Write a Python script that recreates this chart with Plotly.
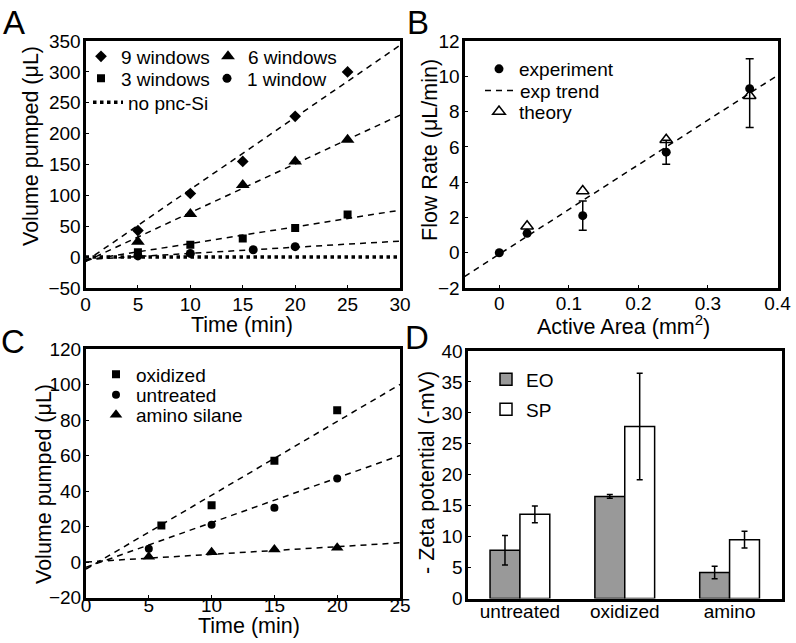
import plotly.graph_objects as go

W, H = 796, 643
FONT = "Liberation Sans, Arial, sans-serif"

# ---------------- Panel A data ----------------
a_time = [5, 10, 15, 20, 25]
a_9win = [43, 103, 155, 228, 300]
a_6win = [25, 70, 117, 155, 190]
a_3win = [8, 20, 30, 47, 69]
a_1win_time = [5, 10, 16, 20]
a_1win = [2, 6, 12, 17]
a_fit_time = [0, 30]
a_fit_9win = [-7, 343]
a_fit_6win = [-7, 230]
a_fit_3win = [-5, 76]
a_fit_1win = [-4, 26]
a_nopnc = [0, 0]

# ---------------- Panel B data ----------------
b_area = [0, 0.04, 0.12, 0.24, 0.36]
b_exp = [0, 1.1, 2.1, 5.7, 9.3]
b_exp_err_plus = [0, 0, 0.83, 0.68, 1.7]
b_exp_err_minus = [0, 0, 0.83, 0.68, 2.2]
b_theory_area = [0.04, 0.12, 0.24, 0.36]
b_theory = [1.5, 3.5, 6.4, 8.9]
b_fit_area = [-0.05, 0.4]
b_fit = [-1.35, 10.05]
b_ticks = [0, 0.1, 0.2, 0.3, 0.4]
b_ticktext = ["0", "0.1", "0.2", "0.3", "0.4"]

# ---------------- Panel C data ----------------
c_time = [5, 10, 15, 20]
c_ox_time = [6, 10, 15, 20]
c_oxidized = [20.5, 32, 57, 85.5]
c_untreated = [7.5, 21, 30.5, 47]
c_amino = [3, 5.5, 7, 8]
c_fit_time = [0, 25]
c_fit_oxidized = [-4, 100]
c_fit_untreated = [-3, 60]
c_fit_amino = [0, 10.8]

# ---------------- Panel D data ----------------
d_categories = ["untreated", "oxidized", "amino"]
d_eo = [7.8, 16.5, 4.2]
d_eo_err = [2.4, 0.3, 1.0]
d_sp = [13.6, 27.8, 9.5]
d_sp_err = [1.35, 8.6, 1.35]


def px_x(p):
    return p / W


def px_y(p):
    return 1 - p / H


DASH = "6px,5px"
fig = go.Figure()

# ---- A ----
for fy in [a_fit_9win, a_fit_6win, a_fit_3win, a_fit_1win]:
    fig.add_trace(go.Scatter(x=a_fit_time, y=fy, mode="lines", showlegend=False,
                             line=dict(color="black", width=1.5, dash=DASH),
                             xaxis="x", yaxis="y"))
fig.add_trace(go.Scatter(x=a_fit_time, y=a_nopnc, mode="lines", name="no pnc-Si",
                         line=dict(color="black", width=3.5, dash="dot"),
                         xaxis="x", yaxis="y", legend="legend5"))
fig.add_trace(go.Scatter(x=a_time, y=a_9win, mode="markers", name="9 windows",
                         marker=dict(symbol="diamond", size=9, color="black"),
                         xaxis="x", yaxis="y", legend="legend"))
fig.add_trace(go.Scatter(x=a_time, y=a_6win, mode="markers", name="6 windows",
                         marker=dict(symbol="triangle-up", size=12, color="black"),
                         xaxis="x", yaxis="y", legend="legend2"))
fig.add_trace(go.Scatter(x=a_time, y=a_3win, mode="markers", name="3 windows",
                         marker=dict(symbol="square", size=8, color="black"),
                         xaxis="x", yaxis="y", legend="legend3"))
fig.add_trace(go.Scatter(x=a_1win_time, y=a_1win, mode="markers", name="1 window",
                         marker=dict(symbol="circle", size=9, color="black"),
                         xaxis="x", yaxis="y", legend="legend4"))

# ---- B ----
fig.add_trace(go.Scatter(x=b_fit_area, y=b_fit, mode="lines", name="exp trend",
                         line=dict(color="black", width=1.5, dash=DASH),
                         xaxis="x2", yaxis="y2", legend="legend7"))
fig.add_trace(go.Scatter(x=b_area, y=b_exp, mode="markers", name="experiment",
                         marker=dict(symbol="circle", size=9, color="black"),
                         error_y=dict(type="data", array=b_exp_err_plus, arrayminus=b_exp_err_minus,
                                      symmetric=False, color="black", thickness=1.5, width=4),
                         xaxis="x2", yaxis="y2", legend="legend6"))
fig.add_trace(go.Scatter(x=b_theory_area, y=b_theory, mode="markers", name="theory",
                         marker=dict(symbol="triangle-up-open", size=11, color="black",
                                     line=dict(width=1.5, color="black")),
                         xaxis="x2", yaxis="y2", legend="legend8"))

# ---- C ----
for fy in [c_fit_oxidized, c_fit_untreated, c_fit_amino]:
    fig.add_trace(go.Scatter(x=c_fit_time, y=fy, mode="lines", showlegend=False,
                             line=dict(color="black", width=1.5, dash=DASH),
                             xaxis="x3", yaxis="y3"))
fig.add_trace(go.Scatter(x=c_ox_time, y=c_oxidized, mode="markers", name="oxidized",
                         marker=dict(symbol="square", size=8, color="black"),
                         xaxis="x3", yaxis="y3", legend="legend9"))
fig.add_trace(go.Scatter(x=c_time, y=c_untreated, mode="markers", name="untreated",
                         marker=dict(symbol="circle", size=8, color="black"),
                         xaxis="x3", yaxis="y3", legend="legend10"))
fig.add_trace(go.Scatter(x=c_time, y=c_amino, mode="markers", name="amino silane",
                         marker=dict(symbol="triangle-up", size=11, color="black"),
                         xaxis="x3", yaxis="y3", legend="legend11"))

# ---- D ----
fig.add_trace(go.Bar(x=d_categories, y=d_eo, name="EO",
                     marker=dict(color="#999999", line=dict(color="black", width=1.5)),
                     error_y=dict(type="data", array=d_eo_err, color="black", thickness=1.5, width=3),
                     xaxis="x4", yaxis="y4", legend="legend12"))
fig.add_trace(go.Bar(x=d_categories, y=d_sp, name="SP",
                     marker=dict(color="white", line=dict(color="black", width=1.5)),
                     error_y=dict(type="data", array=d_sp_err, color="black", thickness=1.5, width=3),
                     xaxis="x4", yaxis="y4", legend="legend13"))

tickfont = dict(size=19, family=FONT, color="black")
axbase = dict(showline=True, linewidth=3, linecolor="black", mirror=True, ticks="inside",
              ticklen=3, tickwidth=1, tickcolor="black", showgrid=False, zeroline=False,
              tickfont=tickfont, automargin=False)

# pixel boxes in reference pixels: (left, right, top, bottom)
boxA = (85.5, 400, 41, 288)
boxB = (464.5, 777.5, 41, 288)
boxC = (86, 400, 349, 597.5)
boxD = (467.5, 782, 351, 598.5)


def dom(box):
    l, r, t, b = box
    return [px_x(l), px_x(r)], [px_y(b), px_y(t)]


xa, ya = dom(boxA)
xb, yb = dom(boxB)
xc, yc = dom(boxC)
xd, yd = dom(boxD)

layout = dict(
    width=W, height=H, margin=dict(l=0, r=0, t=0, b=0),
    paper_bgcolor="white", plot_bgcolor="white",
    font=dict(family=FONT, color="black", size=19),
    barmode="group", bargap=0.43, bargroupgap=0,
    xaxis=dict(axbase, domain=xa, anchor="y", range=[0, 30], dtick=5, ticklabelstandoff=-3),
    yaxis=dict(axbase, domain=ya, anchor="x", range=[-50, 350], dtick=50, ticklabelstandoff=-2),
    xaxis2=dict(axbase, domain=xb, anchor="y2", range=[-0.05, 0.4], tickvals=b_ticks,
                ticktext=b_ticktext, ticklabelstandoff=-4),
    yaxis2=dict(axbase, domain=yb, anchor="x2", range=[-2, 12], dtick=2, ticklabelstandoff=-2),
    xaxis3=dict(axbase, domain=xc, anchor="y3", range=[0, 25], dtick=5, ticklabelstandoff=-11),
    yaxis3=dict(axbase, domain=yc, anchor="x3", range=[-20, 120], dtick=20, ticklabelstandoff=-2),
    xaxis4=dict(axbase, domain=xd, anchor="y4", ticks="", ticklabelstandoff=-6),
    yaxis4=dict(axbase, domain=yd, anchor="x4", range=[0, 40], dtick=5, ticklabelstandoff=-2),
)


def leg(xpx, ypx):
    return dict(x=px_x(xpx), y=px_y(ypx), xanchor="left", yanchor="middle",
                bgcolor="rgba(0,0,0,0)", borderwidth=0,
                font=dict(size=19, family=FONT, color="black"))


legpos = {
    "legend": (81, 56.5), "legend2": (208, 56.5), "legend3": (81, 78.5), "legend4": (207, 78.5),
    "legend5": (88, 102.5),
    "legend6": (479, 69), "legend7": (480, 90.7), "legend8": (479, 111.7),
    "legend9": (96, 374.3), "legend10": (96, 395), "legend11": (96, 415),
    "legend12": (486, 379.3), "legend13": (486, 409.3),
}
for k, (x, y) in legpos.items():
    layout[k] = leg(x, y)

fig.update_layout(**layout)

ann = []


def text_ann(txt, xpx, ypx, size=21.5, angle=0):
    ann.append(dict(text=txt, x=px_x(xpx), y=px_y(ypx), xref="paper", yref="paper",
                    showarrow=False, xanchor="center", yanchor="middle", textangle=angle,
                    font=dict(size=size, family=FONT, color="black")))


# axis titles
text_ann("Time (min)", 242, 325)
text_ann("Volume pumped (\u03bcL)", 31, 146, angle=-90)
text_ann("Active Area (mm<sup>2</sup>)", 623, 325)
text_ann("Flow Rate (\u03bcL/min)", 430, 150, angle=-90)
text_ann("Time (min)", 248.5, 626)
text_ann("Volume pumped (\u03bcL)", 44, 484, angle=-90)
text_ann("- Zeta potential (-mV)", 427, 473, angle=-90)
# panel letters
text_ann("A", 14.3, 22.5, size=33)
text_ann("B", 417.5, 22, size=33)
text_ann("C", 13.3, 341.5, size=33)
text_ann("D", 416.5, 337.5, size=33)

fig.update_layout(annotations=ann)
# remove the browser's default 8px body margin so the figure sits at the page origin
fig.write_html("out.html", config={"displayModeBar": False},
               post_script="document.body.style.margin='0';")
